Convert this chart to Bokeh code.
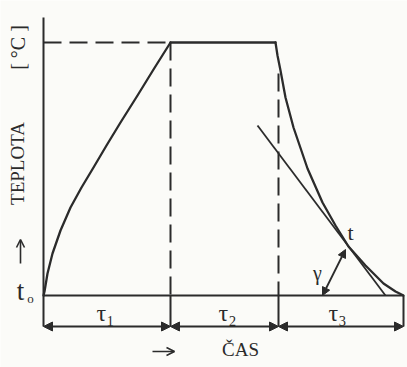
import numpy as np
from bokeh.plotting import figure
from bokeh.models import Range1d, Arrow, NormalHead, OpenHead, ColumnDataSource
from bokeh.core.properties import value
from bokeh.embed import file_html
from bokeh.resources import INLINE

# ---- data (schematic time / temperature units) ----
heat_time = [0, 1, 4, 9, 17, 27, 38, 50, 63, 77, 94, 110, 127]
heat_temp = [0, 4, 22, 42, 65, 88, 108, 128, 150, 173, 200, 226, 253]

hold_time = [127, 232]
hold_temp = [253, 253]

cool_time = [232, 234, 237, 242, 250, 264, 279, 292, 305, 322, 340, 352, 360]
cool_temp = [253, 240, 225, 198, 168, 127, 93, 70, 49, 30, 12, 4, 0]

tangent_time = [214, 342]
tangent_temp = [170, 0]

phase_bounds = [0, 127, 235, 360]          # tau1, tau2, tau3 limits
phase_labels = ["τ₁", "τ₂", "τ₃"]
t_max = 253
t_base = 0
tangent_point = (305, 49)
angle_foot = (279, 0)

ink = "#2b2b2b"
bg = "#fbfbf8"

p = figure(width=407, height=367, output_backend="svg", toolbar_location=None,
           x_range=Range1d(-43, 364), y_range=Range1d(-72, 295),
           x_axis_type=None, y_axis_type=None, min_border=0,
           background_fill_color=bg, border_fill_color=bg, outline_line_color=None)
p.grid.visible = False

lw = 2
arr_y = -31
dash = "18 8"
# vertical temperature axis
p.line([0, 0], [arr_y, 278], line_color=ink, line_width=lw)
# baseline (t0)
p.line([0, phase_bounds[-1]], [t_base, t_base], line_color=ink, line_width=lw)
# top dashed line to max temp
p.line([0, heat_time[-1]], [t_max, t_max], line_color=ink, line_width=lw, line_dash=dash)
# dashed verticals
p.line([phase_bounds[1], phase_bounds[1]], [t_max, t_base], line_color=ink, line_width=lw, line_dash=dash)
p.line([phase_bounds[2], phase_bounds[2]], [222, t_base], line_color=ink, line_width=lw, line_dash=dash)
# solid short verticals between baseline and arrow line
for b in phase_bounds[1:]:
    p.line([b, b], [t_base, arr_y], line_color=ink, line_width=lw)

# curves
kw = dict(line_color=ink, line_width=2.3, line_join="round", line_cap="round")
p.line(heat_time, heat_temp, **kw)
p.line(hold_time, hold_temp, **kw)
p.line(cool_time, cool_temp, **kw)
p.line(tangent_time, tangent_temp, line_color=ink, line_width=1.8)

# double arrows for phases
src = ColumnDataSource(dict(x0=phase_bounds[:-1], x1=phase_bounds[1:],
                            y0=[arr_y] * 3, y1=[arr_y] * 3))
p.add_layout(Arrow(start=NormalHead(size=9, fill_color=ink, line_color=ink, line_width=1),
                   end=NormalHead(size=9, fill_color=ink, line_color=ink, line_width=1),
                   x_start="x0", y_start="y0", x_end="x1", y_end="y1", source=src,
                   line_color=ink, line_width=lw))

# angle arrow
p.add_layout(Arrow(start=NormalHead(size=8, fill_color=ink, line_color=ink, line_width=1),
                   end=NormalHead(size=8, fill_color=ink, line_color=ink, line_width=1),
                   x_start=angle_foot[0], y_start=angle_foot[1],
                   x_end=tangent_point[0] - 3, y_end=tangent_point[1] - 3,
                   line_color=ink, line_width=1.8))

# axis direction arrows
p.add_layout(Arrow(end=OpenHead(size=8, line_color=ink, line_width=1.6),
                   x_start=-23, y_start=32, x_end=-23, y_end=56,
                   line_color=ink, line_width=1.6))
p.add_layout(Arrow(end=OpenHead(size=8, line_color=ink, line_width=1.6),
                   x_start=109, y_start=-56, x_end=131, y_end=-56,
                   line_color=ink, line_width=1.6))

serif = value("Liberation Serif")
# phase labels
mids = [62, 184, 294]
p.text(mids, [-17] * 3, text=phase_labels, text_font=serif, text_font_size="24px",
       text_align="center", text_baseline="middle", text_color=ink)

# y label
p.text([-26], [132], text=["TEPLOTA"], angle=np.pi / 2, text_font=serif, text_font_size="19px",
       text_align="center", text_baseline="middle", text_color=ink)
p.text([-26], [248], text=["[ °C ]"], angle=np.pi / 2, text_font=serif, text_font_size="20px",
       text_align="center", text_baseline="middle", text_color=ink)
p.text([-23], [5], text=["t"], text_font=serif, text_font_size="27px",
       text_align="center", text_baseline="middle", text_color=ink)
p.text([-13], [-3], text=["o"], text_font=serif, text_font_size="13px",
       text_align="center", text_baseline="middle", text_color=ink)

# x label
p.text([197], [-54], text=["ČAS"], text_font=serif, text_font_size="19px",
       text_align="center", text_baseline="middle", text_color=ink)

# tangent labels
p.text([307], [63], text=["t"], text_font=serif, text_font_size="22px",
       text_align="center", text_baseline="middle", text_color=ink)
p.text([274], [23], text=["γ"], text_font=serif, text_font_size="20px",
       text_align="center", text_baseline="middle", text_color=ink)

open("out.html", "w").write(file_html(p, INLINE))
